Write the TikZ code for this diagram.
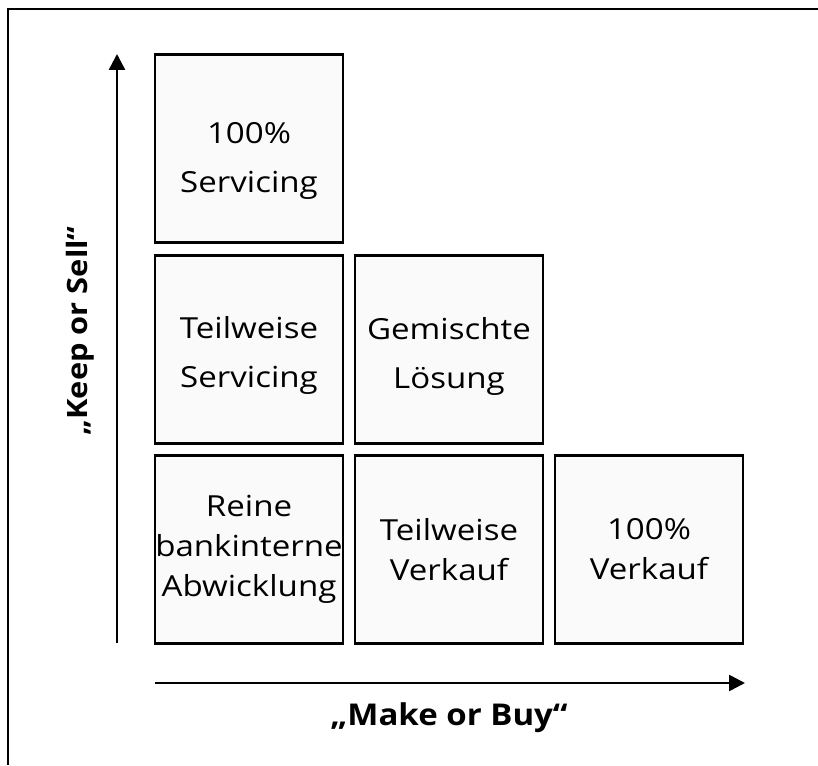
\documentclass[tikz,border=0pt]{standalone}
\usepackage{fontspec}
\setmainfont{Open Sans}
\newfontfamily\feldfont[FakeStretch=1.14]{Open Sans}
\newfontfamily\titelfont[FakeStretch=1.1]{Open Sans}
\usetikzlibrary{arrows.meta}

\newcommand\hoch[1]{\rule{0pt}{#1}}

\tikzset{
  feld/.style={draw, line width=2.2pt, fill=black!2, minimum size=188pt,
    inner sep=0pt, align=center, font=\feldfont\fontsize{29}{40}\selectfont},
  weit/.style={font=\feldfont\fontsize{29}{49}\selectfont},
  achse/.style={line width=2.6pt, -{Triangle[length=16pt,width=16pt]}},
  titel/.style={font=\titelfont\fontsize{30}{36}\selectfont\bfseries}
}

\begin{document}
\begin{tikzpicture}[x=1pt, y=-1pt]
  \useasboundingbox (0,0) rectangle (818,765);
  % Rahmen
  \draw[line width=2.2pt] (8,765) -- (8,9) -- (818,9);

  % Felder
  \node[feld, weit] (servvoll) at (249,148.5) {\hoch{45pt}100\%\\Servicing};
  \node[feld, weit] (servteil) at (249,349.5) {\hoch{33pt}Teilweise\\Servicing};
  \node[feld, weit] (gemischt) at (449,349.5) {\hoch{35pt}Gemischte\\Lösung};
  \node[feld] (intern)   at (249,549.5) {Reine\\bankinterne\\Abwicklung};
  \node[feld] (verkteil) at (449,549.5) {Teilweise\\Verkauf};
  \node[feld] (verkvoll) at (649,549.5) {100\%\\Verkauf};

  % Achsen
  \coordinate (yfuss) at (117,643);
  \coordinate (yspitze) at (117,54);
  \coordinate (xfuss) at (155,683);
  \coordinate (xspitze) at (745,683);
  \draw[achse] (yfuss) -- (yspitze);
  \draw[achse] (xfuss) -- (xspitze);

  \node[titel, font=\titelfont\fontsize{28}{34}\selectfont\bfseries, rotate=90]
    (keep) at (80,331) {„Keep or Sell“};
  \node[titel] (make) at (449,718) {„Make or Buy“};
\end{tikzpicture}
\end{document}
